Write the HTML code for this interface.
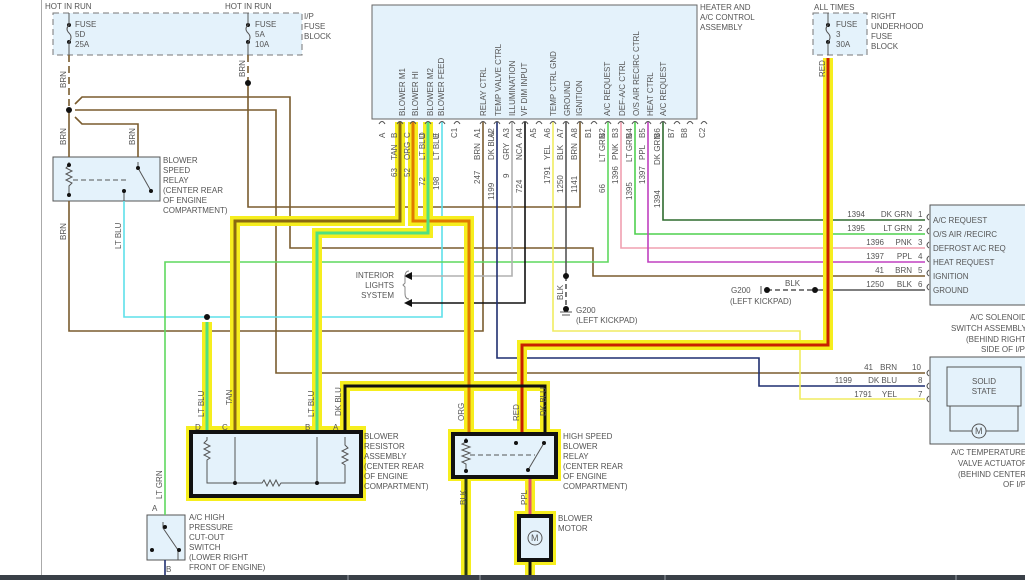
<!DOCTYPE html>
<html><head><meta charset="utf-8"><style>
html,body{margin:0;padding:0;background:#fff;}
svg{display:block;}
text{font-family:"Liberation Sans",sans-serif;font-size:8px;fill:#555;}
</style></head><body>
<svg width="1025" height="580" viewBox="0 0 1025 580" xmlns="http://www.w3.org/2000/svg">
<rect width="1025" height="580" fill="#fff"/>
<line x1="41.5" y1="0" x2="41.5" y2="575" stroke="#aaa" stroke-width="1"/>

<!-- fuse blocks -->
<rect x="53" y="13" width="249" height="42" fill="#e4f2fb" stroke="#777" stroke-dasharray="6,4"/>
<rect x="813" y="13" width="54" height="42" fill="#e4f2fb" stroke="#777" stroke-dasharray="6,4"/>
<!-- control assembly -->
<rect x="372" y="5" width="325" height="114" fill="#e4f2fb" stroke="#666"/>
<!-- relay -->
<rect x="53" y="157" width="107" height="44" fill="#e4f2fb" stroke="#555"/>
<!-- right modules -->
<rect x="930" y="205" width="100" height="100" fill="#e4f2fb" stroke="#555"/>
<rect x="930" y="357" width="100" height="87" fill="#e4f2fb" stroke="#555"/>
<rect x="947" y="367" width="74" height="39" fill="#e4f2fb" stroke="#555"/>
<path d="M950 406 V431 H1018 V406" fill="none" stroke="#555"/>
<circle cx="979" cy="431" r="7" fill="#e4f2fb" stroke="#555"/>
<text x="975" y="434" style="font-size:9px">M</text>
<!-- ac switch -->
<rect x="147" y="515" width="38" height="45" fill="#e4f2fb" stroke="#555"/>

<!-- thin wires -->
<g fill="none" stroke-width="1.6">
<path d="M69 55 V110" stroke="#7a5c2e" stroke-dasharray="7,4"/>
<path d="M69 110 V157" stroke="#7a5c2e"/>
<path d="M248 55 V83" stroke="#7a5c2e" stroke-dasharray="7,4"/>
<path d="M248 83 V207 H580 V122" stroke="#7a5c2e"/>
<path d="M75 104 L82 97 H290 V248 H593 V276 H925" stroke="#7a5c2e"/>
<path d="M75 110 H276 V373 H925" stroke="#7a5c2e"/>
<path d="M75 117 L82 124 H138 V157" stroke="#7a5c2e"/>
<path d="M69 201 V331 H483 V122" stroke="#7a5c2e"/>
<path d="M124 201 V317 H442 V122" stroke="#5ee0ea"/>
<path d="M165 515 V262 H608 V122" stroke="#5fd85f"/>
<path d="M512 122 V276 H412" stroke="#b0b0b0"/>
<path d="M525 122 V303 H412" stroke="#111"/>
<path d="M497 122 V358 H759 V386 H925" stroke="#1f2f70"/>
<path d="M553 122 V331 H800 V399 H925" stroke="#f0ec60"/>
<path d="M566 122 V276" stroke="#555"/>
<path d="M566 276 V309" stroke="#555" stroke-dasharray="5,3"/>
<path d="M621 122 V248 H925" stroke="#f0a0b0"/>
<path d="M635 122 V234 H925" stroke="#4fd04f"/>
<path d="M648 122 V262 H925" stroke="#c040c0"/>
<path d="M663 122 V220 H925" stroke="#2e6b2e"/>
<path d="M767 290 H815" stroke="#555" stroke-dasharray="5,3"/>
<path d="M815 290 H925" stroke="#555"/>
<path d="M165 560 V575" stroke="#1f2f70"/>
</g>
<polygon points="404,276 412,272 412,280" fill="#111"/>
<polygon points="404,303 412,299 412,307" fill="#111"/>
<path d="M409 271 q-4 0 -4 6 v6 l-2 2 l2 2 v6 q0 6 4 6" fill="none" stroke="#888"/>

<!-- highlighted glows -->
<g fill="none" stroke="#f6ee1e" stroke-width="10" stroke-linejoin="miter">
<path d="M400 122 V221 H235 V432"/>
<path d="M413 122 V221 H469 V433"/>
<path d="M428 122 V233 H317 V432"/>
<path d="M207 322 V432"/>
<path d="M828 58 V345 H522 V433"/>
<path d="M345 432 V386 H545 V433"/>
<path d="M466 477 V575"/>
<path d="M530 477 V515"/>
<path d="M530 561 V575"/>
</g>
<rect x="186" y="426" width="180" height="75" fill="#f6ee1e"/>
<rect x="448" y="429" width="113" height="52" fill="#f6ee1e"/>
<rect x="514" y="511" width="42" height="54" fill="#f6ee1e"/>
<g fill="none" stroke-width="3">
<path d="M400 122 V221 H235 V432" stroke="#8a6a10"/>
<path d="M413 122 V221 H469 V433" stroke="#e07a00"/>
<path d="M428 122 V233 H317 V432" stroke="#50e080"/>
<path d="M207 322 V432" stroke="#50e080"/>
<path d="M828 58 V345 H522 V433" stroke="#c82000"/>
<path d="M345 432 V386 H545 V433" stroke="#111"/>
<path d="M466 477 V575" stroke="#2a3a10"/>
<path d="M530 477 V515" stroke="#e05070"/>
<path d="M530 561 V575" stroke="#111"/>
</g>

<!-- resistor box -->
<rect x="191" y="432" width="170" height="64" fill="#e4f2fb" stroke="#111" stroke-width="4"/>
<g fill="none" stroke="#555" stroke-width="1">
<path d="M207 437 V440 l-3 3 l6 3 l-6 3 l6 3 l-6 3 l6 3 l-3 2 V483 H262 l2 -3 l3 6 l3 -6 l3 6 l3 -6 l3 6 l2 -3 H345 V465 l-3 -2 l6 -3 l-6 -3 l6 -3 l-6 -3 l6 -3 l-3 -3 V437"/>
<path d="M235 437 V483 M317 437 V483"/>
</g>
<circle cx="235" cy="483" r="2" fill="#111"/><circle cx="317" cy="483" r="2" fill="#111"/>
<!-- HS relay -->
<rect x="453" y="434" width="103" height="43" fill="#e4f2fb" stroke="#111" stroke-width="4"/>
<g fill="none" stroke="#555" stroke-width="1">
<path d="M466 438 V442 l-4 2 l8 3 l-8 3 l8 3 l-8 3 l8 3 l-8 3 l4 2 V472"/>
<path d="M470 455 H535" stroke-dasharray="5,3"/>
<path d="M528 470 L544 443"/>
</g>
<circle cx="466" cy="441" r="2" fill="#111"/><circle cx="466" cy="471" r="2" fill="#111"/>
<circle cx="516" cy="443" r="2" fill="#111"/><circle cx="544" cy="443" r="2" fill="#111"/><circle cx="528" cy="470" r="2" fill="#111"/>
<!-- motor -->
<rect x="519" y="516" width="32" height="44" fill="#e4f2fb" stroke="#111" stroke-width="4"/>
<circle cx="535" cy="538" r="7" fill="#e4f2fb" stroke="#555"/>
<text x="531" y="541" style="font-size:9px">M</text>

<!-- blower speed relay internals -->
<g fill="none" stroke="#555" stroke-width="1">
<path d="M69 162 V165 l-3 3 l6 3 l-6 3 l6 3 l-6 3 l6 3 l-3 3 V196"/>
<path d="M73 180 H128" stroke-dasharray="5,3"/>
<path d="M138 162 V168 L151 191"/>
<path d="M124 191 V201"/>
<path d="M163 522 V528 L178 550 V560"/>
</g>
<circle cx="69" cy="165" r="2" fill="#111"/><circle cx="69" cy="195" r="2" fill="#111"/>
<circle cx="138" cy="168" r="2" fill="#111"/><circle cx="151" cy="191" r="2" fill="#111"/><circle cx="124" cy="191" r="2" fill="#111"/>
<circle cx="165" cy="527" r="2" fill="#111"/><circle cx="179" cy="550" r="2" fill="#111"/><circle cx="152" cy="550" r="2" fill="#111"/>

<!-- splices/dots -->
<g fill="#111">
<circle cx="69" cy="110" r="3"/><circle cx="248" cy="83" r="3"/><circle cx="207" cy="317" r="3"/>
<circle cx="566" cy="276" r="3"/><circle cx="566" cy="309" r="3"/>
<circle cx="767" cy="290" r="3"/><circle cx="815" cy="290" r="3"/>
<circle cx="69" cy="25" r="2"/><circle cx="69" cy="42" r="2"/><circle cx="248" cy="25" r="2"/><circle cx="248" cy="42" r="2"/><circle cx="828" cy="25" r="2"/><circle cx="828" cy="42" r="2"/>
</g>
<g fill="none" stroke="#555"><path d="M69 13 V25 q-4 4 0 8 q4 4 0 9 V55 M248 13 V25 q-4 4 0 8 q4 4 0 9 V55 M828 13 V25 q-4 4 0 8 q4 4 0 9 V55"/>
<path d="M560 312 H572 M562 315 H570 M761 286 V294"/></g>

<!-- connector arcs on control box -->
<g fill="none" stroke="#555" stroke-width="1">
<path d="M379 124 q3 -5 6 0 M397 124 q3 -5 6 0 M410 124 q3 -5 6 0 M425 124 q3 -5 6 0 M439 124 q3 -5 6 0 M454 124 q3 -5 6 0 M480 124 q3 -5 6 0 M494 124 q3 -5 6 0 M509 124 q3 -5 6 0 M522 124 q3 -5 6 0 M536 124 q3 -5 6 0 M550 124 q3 -5 6 0 M563 124 q3 -5 6 0 M577 124 q3 -5 6 0 M591 124 q3 -5 6 0 M605 124 q3 -5 6 0 M618 124 q3 -5 6 0 M632 124 q3 -5 6 0 M645 124 q3 -5 6 0 M660 124 q3 -5 6 0 M674 124 q3 -5 6 0 M687 124 q3 -5 6 0 M701 124 q3 -5 6 0"/>
<path d="M929 214 q-4 3 0 6 M929 228 q-4 3 0 6 M929 242 q-4 3 0 6 M929 256 q-4 3 0 6 M929 270 q-4 3 0 6 M929 284 q-4 3 0 6 M929 370 q-4 3 0 6 M929 383 q-4 3 0 6 M929 396 q-4 3 0 6"/>
</g>

<!-- texts -->
<text x="45" y="9">HOT IN RUN</text><text x="225" y="9">HOT IN RUN</text>
<text x="75" y="27">FUSE</text><text x="75" y="37">5D</text><text x="75" y="47">25A</text>
<text x="255" y="27">FUSE</text><text x="255" y="37">5A</text><text x="255" y="47">10A</text>
<text x="304" y="19">I/P</text><text x="304" y="29">FUSE</text><text x="304" y="39">BLOCK</text>
<text x="163" y="163">BLOWER</text><text x="163" y="173">SPEED</text><text x="163" y="183">RELAY</text><text x="163" y="193">(CENTER REAR</text><text x="163" y="203">OF ENGINE</text><text x="163" y="213">COMPARTMENT)</text>
<text x="700" y="10">HEATER AND</text><text x="700" y="20">A/C CONTROL</text><text x="700" y="30">ASSEMBLY</text>
<text x="814" y="0">HOT AT</text><text x="814" y="10">ALL TIMES</text>
<text x="836" y="27">FUSE</text><text x="836" y="37">3</text><text x="836" y="47">30A</text>
<text x="871" y="19">RIGHT</text><text x="871" y="29">UNDERHOOD</text><text x="871" y="39">FUSE</text><text x="871" y="49">BLOCK</text>

<g>
<text transform="translate(405,116) rotate(-90)">BLOWER M1</text>
<text transform="translate(418,116) rotate(-90)">BLOWER HI</text>
<text transform="translate(433,116) rotate(-90)">BLOWER M2</text>
<text transform="translate(444,116) rotate(-90)">BLOWER FEED</text>
<text transform="translate(486,116) rotate(-90)">RELAY CTRL</text>
<text transform="translate(501,116) rotate(-90)">TEMP VALVE CTRL</text>
<text transform="translate(515,116) rotate(-90)">ILLUMINATION</text>
<text transform="translate(527,116) rotate(-90)">VF DIM INPUT</text>
<text transform="translate(556,116) rotate(-90)">TEMP CTRL GND</text>
<text transform="translate(570,116) rotate(-90)">GROUND</text>
<text transform="translate(582,116) rotate(-90)">IGNITION</text>
<text transform="translate(610,116) rotate(-90)">A/C REQUEST</text>
<text transform="translate(625,116) rotate(-90)">DEF-A/C CTRL</text>
<text transform="translate(639,116) rotate(-90)">O/S AIR RECIRC CTRL</text>
<text transform="translate(653,116) rotate(-90)">HEAT CTRL</text>
<text transform="translate(666,116) rotate(-90)">A/C REQUEST</text>
</g>
<g>
<text transform="translate(385,138) rotate(-90)">A</text>
<text transform="translate(397,138) rotate(-90)">B</text>
<text transform="translate(410,138) rotate(-90)">C</text>
<text transform="translate(425,138) rotate(-90)">D</text>
<text transform="translate(439,138) rotate(-90)">E</text>
<text transform="translate(457,138) rotate(-90)">C1</text>
<text transform="translate(480,138) rotate(-90)">A1</text>
<text transform="translate(494,138) rotate(-90)">A2</text>
<text transform="translate(509,138) rotate(-90)">A3</text>
<text transform="translate(522,138) rotate(-90)">A4</text>
<text transform="translate(536,138) rotate(-90)">A5</text>
<text transform="translate(550,138) rotate(-90)">A6</text>
<text transform="translate(563,138) rotate(-90)">A7</text>
<text transform="translate(577,138) rotate(-90)">A8</text>
<text transform="translate(591,138) rotate(-90)">B1</text>
<text transform="translate(605,138) rotate(-90)">B2</text>
<text transform="translate(618,138) rotate(-90)">B3</text>
<text transform="translate(632,138) rotate(-90)">B4</text>
<text transform="translate(645,138) rotate(-90)">B5</text>
<text transform="translate(660,138) rotate(-90)">B6</text>
<text transform="translate(674,138) rotate(-90)">B7</text>
<text transform="translate(687,138) rotate(-90)">B8</text>
<text transform="translate(705,138) rotate(-90)">C2</text>
</g>
<g>
<text transform="translate(397,160) rotate(-90)">TAN</text><text transform="translate(397,177) rotate(-90)">63</text>
<text transform="translate(410,160) rotate(-90)">ORG</text><text transform="translate(410,177) rotate(-90)">52</text>
<text transform="translate(425,160) rotate(-90)">LT BLU</text><text transform="translate(425,186) rotate(-90)">72</text>
<text transform="translate(439,160) rotate(-90)">LT BLU</text><text transform="translate(439,190) rotate(-90)">198</text>
<text transform="translate(480,160) rotate(-90)">BRN</text><text transform="translate(480,184) rotate(-90)">247</text>
<text transform="translate(494,160) rotate(-90)">DK BLU</text><text transform="translate(494,200) rotate(-90)">1199</text>
<text transform="translate(509,160) rotate(-90)">GRY</text><text transform="translate(509,178) rotate(-90)">9</text>
<text transform="translate(522,160) rotate(-90)">NCA</text><text transform="translate(522,193) rotate(-90)">724</text>
<text transform="translate(550,160) rotate(-90)">YEL</text><text transform="translate(550,184) rotate(-90)">1791</text>
<text transform="translate(563,160) rotate(-90)">BLK</text><text transform="translate(563,193) rotate(-90)">1250</text>
<text transform="translate(577,160) rotate(-90)">BRN</text><text transform="translate(577,193) rotate(-90)">1141</text>
<text transform="translate(605,162) rotate(-90)">LT GRN</text><text transform="translate(605,193) rotate(-90)">66</text>
<text transform="translate(618,160) rotate(-90)">PNK</text><text transform="translate(618,184) rotate(-90)">1396</text>
<text transform="translate(632,162) rotate(-90)">LT GRN</text><text transform="translate(632,200) rotate(-90)">1395</text>
<text transform="translate(645,160) rotate(-90)">PPL</text><text transform="translate(645,184) rotate(-90)">1397</text>
<text transform="translate(660,165) rotate(-90)">DK GRN</text><text transform="translate(660,208) rotate(-90)">1394</text>
</g>
<g>
<text transform="translate(66,88) rotate(-90)">BRN</text>
<text transform="translate(66,145) rotate(-90)">BRN</text>
<text transform="translate(135,145) rotate(-90)">BRN</text>
<text transform="translate(245,77) rotate(-90)">BRN</text>
<text transform="translate(66,240) rotate(-90)">BRN</text>
<text transform="translate(121,249) rotate(-90)">LT BLU</text>
<text transform="translate(825,77) rotate(-90)">RED</text>
<text transform="translate(563,300) rotate(-90)">BLK</text>
<text transform="translate(204,417) rotate(-90)">LT BLU</text>
<text transform="translate(232,405) rotate(-90)">TAN</text>
<text transform="translate(314,417) rotate(-90)">LT BLU</text>
<text transform="translate(341,416) rotate(-90)">DK BLU</text>
<text transform="translate(464,421) rotate(-90)">ORG</text>
<text transform="translate(519,421) rotate(-90)">RED</text>
<text transform="translate(546,416) rotate(-90)">DK BLU</text>
<text transform="translate(466,505) rotate(-90)">BLK</text>
<text transform="translate(527,505) rotate(-90)">PPL</text>
<text transform="translate(162,499) rotate(-90)">LT GRN</text>
</g>
<text x="195" y="430">D</text><text x="222" y="430">C</text><text x="305" y="430">B</text><text x="333" y="430">A</text>
<text x="152" y="511">A</text><text x="166" y="572">B</text>
<text x="364" y="439">BLOWER</text><text x="364" y="449">RESISTOR</text><text x="364" y="459">ASSEMBLY</text><text x="364" y="469">(CENTER REAR</text><text x="364" y="479">OF ENGINE</text><text x="364" y="489">COMPARTMENT)</text>
<text x="563" y="439">HIGH SPEED</text><text x="563" y="449">BLOWER</text><text x="563" y="459">RELAY</text><text x="563" y="469">(CENTER REAR</text><text x="563" y="479">OF ENGINE</text><text x="563" y="489">COMPARTMENT)</text>
<text x="558" y="521">BLOWER</text><text x="558" y="531">MOTOR</text>
<text x="189" y="520">A/C HIGH</text><text x="189" y="530">PRESSURE</text><text x="189" y="540">CUT-OUT</text><text x="189" y="550">SWITCH</text><text x="189" y="560">(LOWER RIGHT</text><text x="189" y="570">FRONT OF ENGINE)</text>
<text x="394" y="278" text-anchor="end">INTERIOR</text><text x="394" y="288" text-anchor="end">LIGHTS</text><text x="394" y="298" text-anchor="end">SYSTEM</text>
<text x="576" y="313">G200</text><text x="576" y="323">(LEFT KICKPAD)</text>
<text x="731" y="293">G200</text><text x="730" y="304">(LEFT KICKPAD)</text><text x="785" y="286">BLK</text>

<g>
<text x="865" y="217" text-anchor="end">1394</text><text x="912" y="217" text-anchor="end">DK GRN</text><text x="918" y="217">1</text>
<text x="865" y="231" text-anchor="end">1395</text><text x="912" y="231" text-anchor="end">LT GRN</text><text x="918" y="231">2</text>
<text x="884" y="245" text-anchor="end">1396</text><text x="912" y="245" text-anchor="end">PNK</text><text x="918" y="245">3</text>
<text x="884" y="259" text-anchor="end">1397</text><text x="912" y="259" text-anchor="end">PPL</text><text x="918" y="259">4</text>
<text x="884" y="273" text-anchor="end">41</text><text x="912" y="273" text-anchor="end">BRN</text><text x="918" y="273">5</text>
<text x="884" y="287" text-anchor="end">1250</text><text x="912" y="287" text-anchor="end">BLK</text><text x="918" y="287">6</text>
<text x="933" y="223">A/C REQUEST</text><text x="933" y="237">O/S AIR /RECIRC</text><text x="933" y="251">DEFROST A/C REQ</text><text x="933" y="265">HEAT REQUEST</text><text x="933" y="279">IGNITION</text><text x="933" y="293">GROUND</text>
<text x="873" y="370" text-anchor="end">41</text><text x="897" y="370" text-anchor="end">BRN</text><text x="912" y="370">10</text>
<text x="852" y="383" text-anchor="end">1199</text><text x="897" y="383" text-anchor="end">DK BLU</text><text x="918" y="383">8</text>
<text x="872" y="397" text-anchor="end">1791</text><text x="897" y="397" text-anchor="end">YEL</text><text x="918" y="397">7</text>
<text x="984" y="384" text-anchor="middle">SOLID</text><text x="984" y="394" text-anchor="middle">STATE</text>
<text x="970" y="320">A/C SOLENOID</text><text x="951" y="331">SWITCH ASSEMBLY</text><text x="966" y="342">(BEHIND RIGHT</text><text x="981" y="352">SIDE OF I/P</text>
<text x="951" y="455">A/C TEMPERATURE</text><text x="958" y="466">VALVE ACTUATOR</text><text x="958" y="477">(BEHIND CENTER</text><text x="1003" y="487">OF I/P</text>
</g>

<!-- bottom bar -->
<rect x="0" y="575" width="1025" height="5" fill="#3a4048"/>
<g stroke="#9aa0a8" stroke-width="1"><line x1="348" y1="575" x2="348" y2="580"/><line x1="480" y1="575" x2="480" y2="580"/><line x1="665" y1="575" x2="665" y2="580"/><line x1="956" y1="575" x2="956" y2="580"/></g>
</svg>
</body></html>
